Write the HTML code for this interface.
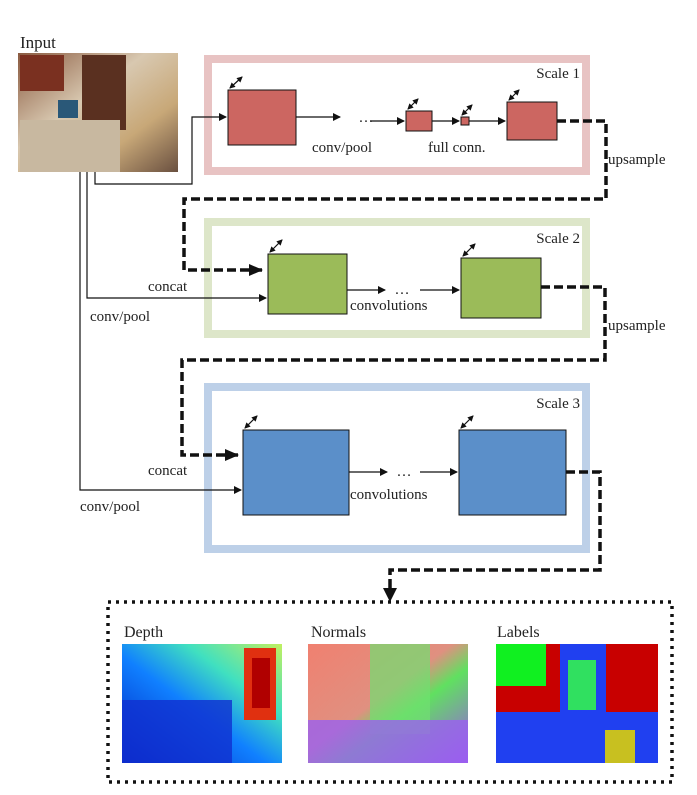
<!DOCTYPE html>
<html><head><style>body{margin:0;background:#fff}svg{display:block}text{font-family:"Liberation Serif",serif;fill:#222}</style></head><body>
<svg width="697" height="795" viewBox="0 0 697 795" xmlns="http://www.w3.org/2000/svg">
<defs>
<marker id="a" markerWidth="8" markerHeight="8" refX="7" refY="4" orient="auto" markerUnits="userSpaceOnUse"><path d="M0,0 L8,4 L0,8z" fill="#111"/></marker>
<marker id="b" markerWidth="14" markerHeight="12" refX="13" refY="6" orient="auto" markerUnits="userSpaceOnUse"><path d="M0,0 L14,6 L0,12z" fill="#111"/></marker>
<marker id="s" markerWidth="6" markerHeight="6" refX="5" refY="3" orient="auto-start-reverse" markerUnits="userSpaceOnUse"><path d="M0,0 L6,3 L0,6z" fill="#111"/></marker>
<linearGradient id="ph" x1="0" y1="0" x2="1" y2="1"><stop offset="0" stop-color="#8a5a40"/><stop offset=".4" stop-color="#d8c8b0"/><stop offset=".7" stop-color="#c8a878"/><stop offset="1" stop-color="#6a5040"/></linearGradient>
<linearGradient id="dp" x1="0" y1="1" x2="1" y2="0"><stop offset="0" stop-color="#0020c0"/><stop offset=".45" stop-color="#1080ff"/><stop offset=".7" stop-color="#40e0c0"/><stop offset="1" stop-color="#c0f060"/></linearGradient>
<linearGradient id="nm" x1="0" y1="0" x2="1" y2="1"><stop offset="0" stop-color="#f08070"/><stop offset=".45" stop-color="#e09080"/><stop offset=".6" stop-color="#60e060"/><stop offset="1" stop-color="#a050f0"/></linearGradient>
</defs>
<text x="20" y="48" font-size="17">Input</text>
<rect x="18" y="53" width="160" height="119" fill="url(#ph)"/>
<rect x="20" y="55" width="44" height="36" fill="#7a3020"/>
<rect x="82" y="55" width="44" height="75" fill="#5a3020"/>
<rect x="20" y="120" width="100" height="52" fill="#c8b8a0"/>
<rect x="58" y="100" width="20" height="18" fill="#2a5878"/>
<!-- frames -->
<rect x="208" y="59" width="378" height="112" fill="none" stroke="#e8c3c3" stroke-width="8"/>
<rect x="208" y="222" width="378" height="112" fill="none" stroke="#dde6c9" stroke-width="8"/>
<rect x="208" y="387" width="378" height="162" fill="none" stroke="#bdd0e8" stroke-width="8"/>
<text x="580" y="78" font-size="15" text-anchor="end">Scale 1</text>
<text x="580" y="243" font-size="15" text-anchor="end">Scale 2</text>
<text x="580" y="408" font-size="15" text-anchor="end">Scale 3</text>
<!-- boxes -->
<g stroke="#111" stroke-width="1">
<rect x="228" y="90" width="68" height="55" fill="#cc6661"/>
<rect x="406" y="111" width="26" height="20" fill="#cc6661"/>
<rect x="461" y="117" width="8" height="8" fill="#cc6661"/>
<rect x="507" y="102" width="50" height="38" fill="#cc6661"/>
<rect x="268" y="254" width="79" height="60" fill="#9bbb59"/>
<rect x="461" y="258" width="80" height="60" fill="#9bbb59"/>
<rect x="243" y="430" width="106" height="85" fill="#5b8fc9"/>
<rect x="459" y="430" width="107" height="85" fill="#5b8fc9"/>
</g>
<!-- small diagonal arrows -->
<g stroke="#111" stroke-width="1.2" marker-start="url(#s)" marker-end="url(#s)">
<line x1="230" y1="88" x2="242" y2="77"/><line x1="408" y1="109" x2="418" y2="99"/><line x1="462" y1="115" x2="472" y2="105"/><line x1="509" y1="100" x2="519" y2="90"/>
<line x1="270" y1="252" x2="282" y2="240"/><line x1="463" y1="256" x2="475" y2="244"/>
<line x1="245" y1="428" x2="257" y2="416"/><line x1="461" y1="428" x2="473" y2="416"/>
</g>
<!-- solid connectors -->
<g stroke="#111" stroke-width="1.2" fill="none">
<polyline points="95,172 95,184 192,184 192,117 226,117" marker-end="url(#a)"/>
<polyline points="87,172 87,298 266,298" marker-end="url(#a)"/>
<polyline points="80,172 80,490 241,490" marker-end="url(#a)"/>
<line x1="296" y1="117" x2="340" y2="117" marker-end="url(#a)"/>
<line x1="370" y1="121" x2="404" y2="121" marker-end="url(#a)"/>
<line x1="432" y1="121" x2="459" y2="121" marker-end="url(#a)"/>
<line x1="469" y1="121" x2="505" y2="121" marker-end="url(#a)"/>
<line x1="347" y1="290" x2="385" y2="290" marker-end="url(#a)"/>
<line x1="420" y1="290" x2="459" y2="290" marker-end="url(#a)"/>
<line x1="349" y1="472" x2="387" y2="472" marker-end="url(#a)"/>
<line x1="420" y1="472" x2="457" y2="472" marker-end="url(#a)"/>
</g>
<text x="366" y="122" font-size="15" text-anchor="middle">…</text>
<text x="402" y="294" font-size="15" text-anchor="middle">…</text>
<text x="404" y="476" font-size="15" text-anchor="middle">…</text>
<!-- dashed -->
<g stroke="#111" stroke-width="3.5" fill="none" stroke-dasharray="9,4">
<polyline points="557,121 606,121 606,199 184,199 184,270 262,270" marker-end="url(#b)"/>
<polyline points="541,287 605,287 605,360 182,360 182,455 238,455" marker-end="url(#b)"/>
<polyline points="566,472 600,472 600,570 390,570 390,592"/>
</g>
<path d="M383,588 L397,588 L390,602z" fill="#111"/>
<g font-size="15">
<text x="312" y="152">conv/pool</text>
<text x="428" y="152">full conn.</text>
<text x="608" y="164">upsample</text>
<text x="608" y="330">upsample</text>
<text x="148" y="291">concat</text>
<text x="90" y="321">conv/pool</text>
<text x="350" y="310">convolutions</text>
<text x="148" y="475">concat</text>
<text x="80" y="511">conv/pool</text>
<text x="350" y="499">convolutions</text>
</g>
<!-- output -->
<rect x="108" y="602" width="564" height="180" fill="none" stroke="#111" stroke-width="3.5" stroke-dasharray="3,5"/>
<g font-size="16"><text x="124" y="637">Depth</text><text x="311" y="637">Normals</text><text x="497" y="637">Labels</text></g>
<rect x="122" y="644" width="160" height="119" fill="url(#dp)"/>
<rect x="122" y="700" width="110" height="63" fill="#1030d0" opacity=".8"/>
<rect x="244" y="648" width="32" height="72" fill="#e03010"/>
<rect x="252" y="658" width="18" height="50" fill="#b00000"/>
<rect x="308" y="644" width="160" height="119" fill="url(#nm)"/>
<rect x="370" y="644" width="60" height="90" fill="#70e070" opacity=".7"/>
<rect x="308" y="720" width="160" height="43" fill="#9a60f0" opacity=".8"/>
<rect x="496" y="644" width="162" height="119" fill="#c80000"/>
<rect x="496" y="644" width="50" height="42" fill="#10f020"/>
<rect x="496" y="712" width="162" height="51" fill="#2040f0"/>
<rect x="560" y="644" width="46" height="100" fill="#2040f0"/>
<rect x="568" y="660" width="28" height="50" fill="#30e060"/>
<rect x="605" y="730" width="30" height="33" fill="#c8c020"/>
</svg>
</body></html>
